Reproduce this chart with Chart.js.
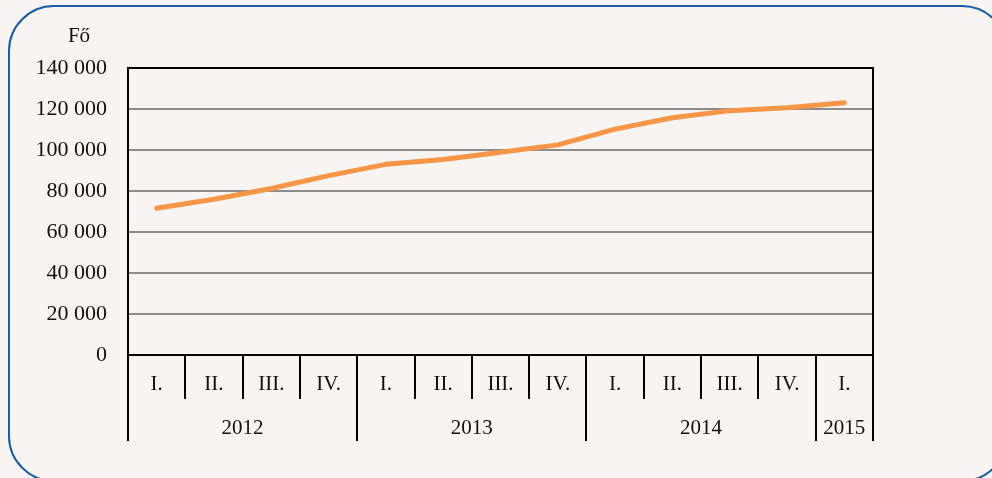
<!DOCTYPE html>
<html>
<head>
<meta charset="utf-8">
<script src="https://cdn.jsdelivr.net/npm/chart.js@4"></script>
<style>
  html, body { margin: 0; padding: 0; background: #f7f4f1; overflow: hidden; }
  #wrap { position: relative; width: 992px; height: 478px; overflow: hidden; }
  #frame { position: absolute; left: 8px; top: 5px; width: 1000px; height: 477px;
           border: 2px solid #1a5ea6; border-radius: 46px; box-sizing: border-box; }
  canvas { position: absolute; left: 0; top: 0; }
</style>
</head>
<body>
<div id="wrap">
  <div id="frame"></div>
  <canvas id="c" width="992" height="478"></canvas>
</div>
<script>
var quarters = ['I.','II.','III.','IV.','I.','II.','III.','IV.','I.','II.','III.','IV.','I.'];
var years = ['2012','2012','2012','2012','2013','2013','2013','2013','2014','2014','2014','2014','2015'];
var letszam = [71600, 76000, 81200, 87500, 93000, 95400, 98900, 102500, 110200, 115700, 119200, 120600, 123100];
var yTicks = [0, 20000, 40000, 60000, 80000, 100000, 120000, 140000];
var unitLabel = 'Fő';

var serif = '"Liberation Serif", "DejaVu Serif", serif';

function fmt(v) {
    return String(v).replace(/\B(?=(\d{3})+(?!\d))/g, ' ');
}

// axis frame, category separators and two-level labels
var axisPlugin = {
    id: 'axisPlugin',
    afterDraw: function(chart) {
        var ctx = chart.ctx;
        var a = chart.chartArea;
        var x = chart.scales.x;
        ctx.save();
        ctx.strokeStyle = '#000';
        ctx.lineWidth = 2;
        ctx.strokeRect(a.left, a.top, a.right - a.left, a.bottom - a.top);

        var bounds = [a.left];
        for (var i = 1; i < quarters.length; i++) {
            bounds.push((x.getPixelForValue(i - 1) + x.getPixelForValue(i)) / 2);
        }
        bounds.push(a.right);

        ctx.beginPath();
        for (var j = 0; j < bounds.length; j++) {
            var isYear = j == 0 || j == bounds.length - 1 || years[j] != years[j - 1];
            var bx = Math.round(bounds[j]);
            ctx.moveTo(bx, a.bottom);
            ctx.lineTo(bx, isYear ? a.bottom + 86 : a.bottom + 44);
        }
        ctx.stroke();

        ctx.fillStyle = '#111';
        ctx.font = '21px ' + serif;
        ctx.textAlign = 'center';
        ctx.textBaseline = 'middle';
        for (var q = 0; q < quarters.length; q++) {
            ctx.fillText(quarters[q], x.getPixelForValue(q), a.bottom + 29);
        }
        var start = 0;
        for (var k = 1; k <= years.length; k++) {
            if (k == years.length || years[k] != years[start]) {
                ctx.fillText(years[start], (bounds[start] + bounds[k]) / 2, a.bottom + 73);
                start = k;
            }
        }
        ctx.fillText(unitLabel, 79, 36);
        ctx.restore();
    }
};

new Chart(document.getElementById('c').getContext('2d'), {
    type: 'line',
    data: {
        labels: quarters,
        datasets: [{
            label: 'Fő',
            data: letszam,
            borderColor: '#f79646',
            borderWidth: 5,
            borderCapStyle: 'round',
            borderJoinStyle: 'round',
            pointRadius: 0,
            tension: 0
        }]
    },
    options: {
        responsive: false,
        animation: false,
        layout: { padding: { left: 0, top: 68, right: 119, bottom: 123 } },
        plugins: { legend: { display: false }, tooltip: { enabled: false } },
        scales: {
            x: { display: false, offset: true },
            y: {
                min: 0, max: 140000,
                afterFit: function(s) { s.width = 128; },
                afterBuildTicks: function(s) { s.ticks = yTicks.map(function(v) { return { value: v }; }); },
                border: { display: false },
                grid: { color: '#8c8c8c', lineWidth: 2, drawTicks: false },
                ticks: {
                    color: '#111',
                    padding: 21,
                    font: { family: serif, size: 22 },
                    callback: function(v) { return fmt(v); }
                }
            }
        }
    },
    plugins: [axisPlugin]
});
</script>
</body>
</html>
